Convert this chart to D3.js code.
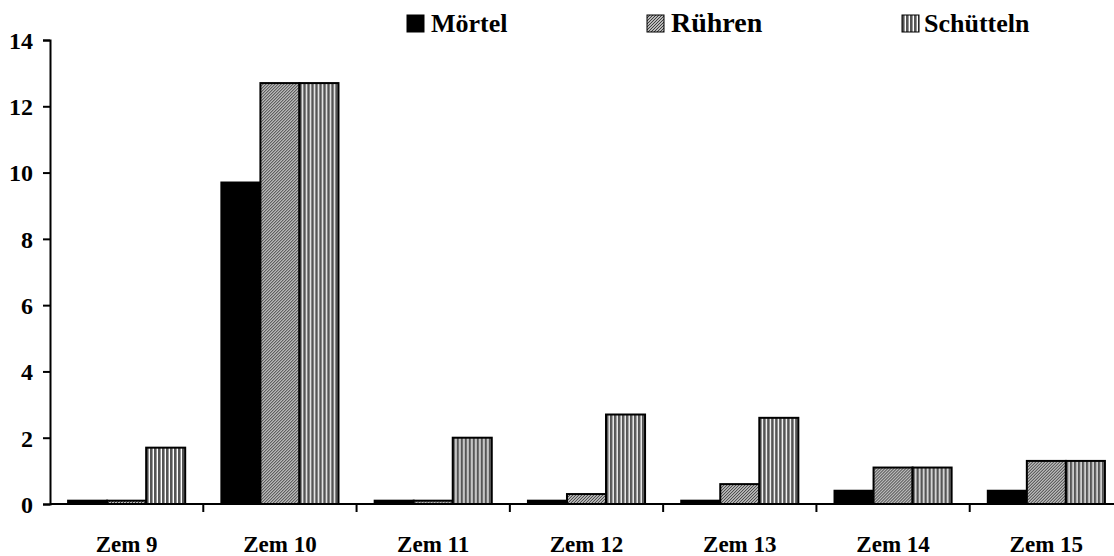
<!DOCTYPE html>
<html>
<head>
<meta charset="utf-8" />
<title></title>
<style>
body { margin: 0; background: #fff; }
text { font-family: "Liberation Serif", "Times New Roman", serif; font-weight: bold; fill: #000; }
.axis path, .axis line { stroke: #000; stroke-width: 2px; }
.bar { stroke: #000; stroke-width: 2px; }
</style>
</head>
<body>
<div id="container"></div>
<script src="https://cdn.jsdelivr.net/npm/d3@7"></script>
<script>
var categories = ["Zem 9", "Zem 10", "Zem 11", "Zem 12", "Zem 13", "Zem 14", "Zem 15"];
var series = ["Mörtel", "Rühren", "Schütteln"];
var moertel = [0.1, 9.7, 0.1, 0.1, 0.1, 0.4, 0.4];
var ruehren = [0.1, 12.7, 0.1, 0.3, 0.6, 1.1, 1.3];
var schuetteln = [1.7, 12.7, 2.0, 2.7, 2.6, 1.1, 1.3];
var yTicks = [0, 2, 4, 6, 8, 10, 12, 14];

var width = 1114, height = 556;
var plotLeft = 50, plotTop = 40, plotBottom = 504;

var svg = d3.select("#container").append("svg")
    .attr("width", width)
    .attr("height", height);

// fill patterns
var defs = svg.append("defs");
var p1 = defs.append("pattern").attr("id", "hatch")
    .attr("patternUnits", "userSpaceOnUse")
    .attr("width", 3).attr("height", 3);
p1.append("rect").attr("width", 3).attr("height", 3).attr("fill", "#eee");
p1.append("path").attr("d", "M-1,1 l2,-2 M0,3 l3,-3 M2,4 l2,-2")
    .attr("stroke", "#333").attr("stroke-width", 1.1);

var p2 = defs.append("pattern").attr("id", "vstripe")
    .attr("patternUnits", "userSpaceOnUse")
    .attr("width", 4).attr("height", 4);
p2.append("rect").attr("width", 4).attr("height", 4).attr("fill", "#fff");
p2.append("rect").attr("width", 2.6).attr("height", 4).attr("fill", "#555");

var fills = ["#000", "url(#hatch)", "url(#vstripe)"];

var x0 = d3.scaleBand().domain(categories).range([plotLeft, 1123]);
var x1 = d3.scaleBand().domain(series)
    .range([x0.bandwidth() * 0.118, x0.bandwidth() * 0.882]);
var y = d3.scaleLinear().domain([0, 14]).range([plotBottom, plotTop]);

var rows = categories.map(function(c, i) {
    return { cat: c, vals: [moertel[i], ruehren[i], schuetteln[i]] };
});

var groups = svg.selectAll(".grp")
    .data(rows)
    .enter().append("g")
    .attr("transform", d => "translate(" + x0(d.cat) + ",0)");

groups.selectAll("rect")
    .data(d => d.vals.map((v, j) => ({ s: series[j], v: v, j: j })))
    .enter().append("rect")
    .attr("class", "bar")
    .attr("x", d => x1(d.s))
    .attr("y", d => y(d.v))
    .attr("width", x1.bandwidth())
    .attr("height", d => y(0) - y(d.v))
    .attr("fill", d => fills[d.j]);

// y axis
var yAxis = svg.append("g").attr("class", "axis")
    .attr("transform", "translate(" + plotLeft + ",0)")
    .call(d3.axisLeft(y).tickValues(yTicks).tickSize(7).tickSizeOuter(7));
yAxis.selectAll("text").attr("font-size", "24px").attr("x", -17).attr("dy", "0.35em");

// x axis
var xAxis = svg.append("g").attr("class", "axis")
    .attr("transform", "translate(0," + plotBottom + ")");
xAxis.append("line").attr("x1", plotLeft).attr("x2", width).attr("y1", 0).attr("y2", 0);
xAxis.selectAll(".xt")
    .data(categories.slice(1))
    .enter().append("line")
    .attr("x1", d => x0(d)).attr("x2", d => x0(d))
    .attr("y1", 0).attr("y2", 8);
xAxis.selectAll(".xl")
    .data(categories)
    .enter().append("text")
    .attr("x", d => x0(d) + x0.bandwidth() / 2)
    .attr("y", 48)
    .attr("text-anchor", "middle")
    .attr("font-size", "23px")
    .text(d => d);

// legend
var legX = [407, 647, 902];
var leg = svg.selectAll(".leg")
    .data(series)
    .enter().append("g")
    .attr("transform", (d, i) => "translate(" + legX[i] + ",0)");
leg.append("rect")
    .attr("x", 0).attr("y", 15)
    .attr("width", 17).attr("height", 17)
    .attr("fill", (d, i) => fills[i])
    .attr("stroke", "#000").attr("stroke-width", 1);
leg.append("text")
    .attr("x", (d, i) => i == 2 ? 22 : 24)
    .attr("y", 32)
    .attr("font-size", (d, i) => i == 1 ? "28px" : "26px")
    .text(d => d);
</script>
</body>
</html>
